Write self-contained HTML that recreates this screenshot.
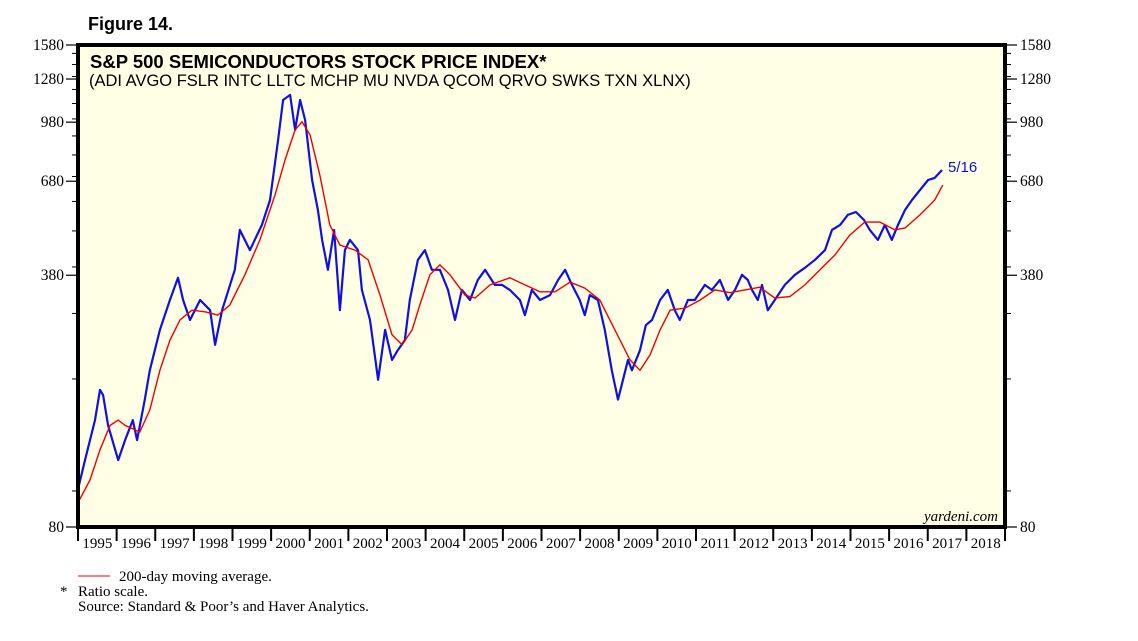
<!DOCTYPE html>
<html><head><meta charset="utf-8">
<style>
body{margin:0;background:#fff;width:1138px;height:636px;overflow:hidden}
svg text{font-family:"Liberation Serif",serif}
</style></head><body>
<svg width="1138" height="636" xmlns="http://www.w3.org/2000/svg">
<text x="88" y="30" font-weight="bold" font-size="18" style="font-family:'Liberation Sans',sans-serif">Figure 14.</text>
<rect x="78" y="45" width="927" height="482" fill="#ffffe6"/>
<g id="lines"></g>
<rect x="78" y="45" width="927" height="482" fill="none" stroke="#000" stroke-width="4"/>
<g id="axes"></g>
<text x="90" y="68" font-weight="bold" font-size="18.5" style="font-family:'Liberation Sans',sans-serif">S&amp;P 500 SEMICONDUCTORS STOCK PRICE INDEX*</text>
<text x="89" y="86" font-size="16.5" style="font-family:'Liberation Sans',sans-serif">(ADI AVGO FSLR INTC LLTC MCHP MU NVDA QCOM QRVO SWKS TXN XLNX)</text>
<text x="948" y="172" font-size="15" fill="#1010d0" style="font-family:'Liberation Sans',sans-serif">5/16</text>
<text x="998" y="521" font-size="15" font-style="italic" text-anchor="end">yardeni.com</text>
<line x1="78" y1="576" x2="110" y2="576" stroke="#e00" stroke-width="1"/>
<text x="119" y="581" font-size="15">200-day moving average.</text>
<text x="60" y="596" font-size="15">*</text>
<text x="78" y="596" font-size="15">Ratio scale.</text>
<text x="78" y="611" font-size="15">Source: Standard &amp; Poor’s and Haver Analytics.</text>
</svg>
<script>
const priceYears=[1995.00,1995.18,1995.44,1995.57,1995.65,1995.78,1996.04,1996.22,1996.42,1996.53,1996.73,1996.86,1997.12,1997.38,1997.59,1997.72,1997.90,1998.16,1998.42,1998.55,1998.73,1999.06,1999.19,1999.45,1999.76,1999.97,2000.18,2000.31,2000.49,2000.62,2000.75,2000.88,2001.06,2001.21,2001.32,2001.47,2001.63,2001.78,2001.91,2002.04,2002.25,2002.35,2002.56,2002.77,2002.95,2003.13,2003.28,2003.46,2003.59,2003.80,2003.98,2004.16,2004.37,2004.58,2004.76,2004.94,2005.15,2005.35,2005.54,2005.79,2005.98,2006.18,2006.44,2006.57,2006.75,2006.96,2007.22,2007.43,2007.61,2007.79,2007.99,2008.12,2008.25,2008.46,2008.64,2008.82,2008.98,2009.11,2009.24,2009.34,2009.55,2009.70,2009.86,2010.07,2010.27,2010.45,2010.58,2010.79,2010.97,2011.23,2011.41,2011.62,2011.83,2012.01,2012.19,2012.34,2012.45,2012.60,2012.71,2012.86,2013.04,2013.30,2013.56,2013.82,2014.08,2014.34,2014.52,2014.73,2014.93,2015.14,2015.35,2015.50,2015.71,2015.89,2016.07,2016.23,2016.41,2016.59,2016.80,2017.01,2017.18,2017.37];
const priceValues=[101,121,155,187,181,150,121,137,155,137,176,211,271,326,374,326,288,326,306,247,306,393,503,444,519,605,878,1124,1160,934,1124,993,685,569,473,393,503,306,444,473,444,347,288,199,271,225,239,254,326,418,444,393,393,347,288,347,326,369,393,358,358,347,326,297,347,326,336,369,393,358,326,297,336,326,271,211,176,199,225,211,239,279,288,326,347,306,288,326,326,358,347,369,326,347,381,369,347,326,358,306,326,358,381,398,418,444,503,519,552,562,535,503,473,519,473,519,569,605,644,685,694,729];
const maYears=[1995.00,1995.31,1995.57,1995.83,1996.04,1996.22,1996.60,1996.86,1997.12,1997.38,1997.64,1997.95,1998.29,1998.62,1998.93,1999.32,1999.71,2000.10,2000.36,2000.62,2000.80,2001.01,2001.26,2001.52,2001.78,2002.17,2002.51,2002.82,2003.13,2003.39,2003.65,2003.85,2004.11,2004.37,2004.63,2005.02,2005.28,2005.67,2006.18,2006.57,2006.96,2007.35,2007.74,2008.12,2008.51,2008.90,2009.29,2009.55,2009.81,2010.07,2010.33,2010.72,2011.11,2011.49,2011.88,2012.27,2012.65,2013.04,2013.43,2013.82,2014.21,2014.60,2014.98,2015.37,2015.76,2016.15,2016.41,2016.80,2017.18,2017.39];
const maValues=[93,107,129,150,155,150,144,165,211,254,288,306,303,297,316,381,473,624,775,934,982,905,707,519,458,444,418,336,263,247,271,316,381,405,381,336,330,358,374,358,343,343,364,351,326,271,225,211,232,271,306,310,326,347,341,347,353,330,333,358,393,431,487,528,528,503,509,552,605,664];
const yTicks=[80,380,680,980,1280,1580];
const xYears=[1995,1996,1997,1998,1999,2000,2001,2002,2003,2004,2005,2006,2007,2008,2009,2010,2011,2012,2013,2014,2015,2016,2017,2018];

const NS="http://www.w3.org/2000/svg";
const L=78,R=1005,T=45,B=527,vMin=80,vMax=1580,x0=1995,x1=2019;
const sx=t=>L+(t-x0)/(x1-x0)*(R-L);
const sy=v=>B-Math.log(v/vMin)/Math.log(vMax/vMin)*(B-T);
function mk(tag,attrs,parent){const e=document.createElementNS(NS,tag);for(const k in attrs)e.setAttribute(k,attrs[k]);parent.appendChild(e);return e;}
const lines=document.getElementById('lines'),axes=document.getElementById('axes');
function path(xs,vs){return xs.map((t,i)=>(i?'L':'M')+sx(t).toFixed(1)+','+sy(vs[i]).toFixed(1)).join('');}
const pl=mk('path',{d:path(priceYears,priceValues),fill:'none',stroke:'#1010e0','stroke-width':2.2,'stroke-linejoin':'round'},lines);


const ml=mk('path',{d:path(maYears,maValues),fill:'none',stroke:'#e00','stroke-width':1.4},lines);


for(let v=100;v<1580;v+=100){const y=sy(v);
 for(const [a,b] of [[L-6,L],[R,R+6]]){const m=mk('line',{x1:a,x2:b,y1:y,y2:y,stroke:'#000','stroke-width':1},axes);
 
 }}
yTicks.forEach(v=>{const y=sy(v);
 for(const [a,b] of [[L-12,L],[R,R+12]]){const m=mk('line',{x1:a,x2:b,y1:y,y2:y,stroke:'#000','stroke-width':1.2},axes);
 
 }
 const tl=mk('text',{x:L-14,y:y+5,'text-anchor':'end','font-size':15.5},axes);tl.textContent=v;
 
 
 const tr=mk('text',{x:R+15,y:y+5,'font-size':15.5},axes);tr.textContent=v;
 
 
});
xYears.forEach(yr=>{const x=sx(yr);
 const t=mk('line',{x1:x,x2:x,y1:B,y2:B+14,stroke:'#000','stroke-width':2},axes);
 
 
 const lb=mk('text',{x:(x+sx(yr+1))/2,y:B+21,'text-anchor':'middle','font-size':15},axes);lb.textContent=yr;
 
 
});
const te=mk('line',{x1:R,x2:R,y1:B,y2:B+14,stroke:'#000','stroke-width':2},axes);


</script>
</body></html>
